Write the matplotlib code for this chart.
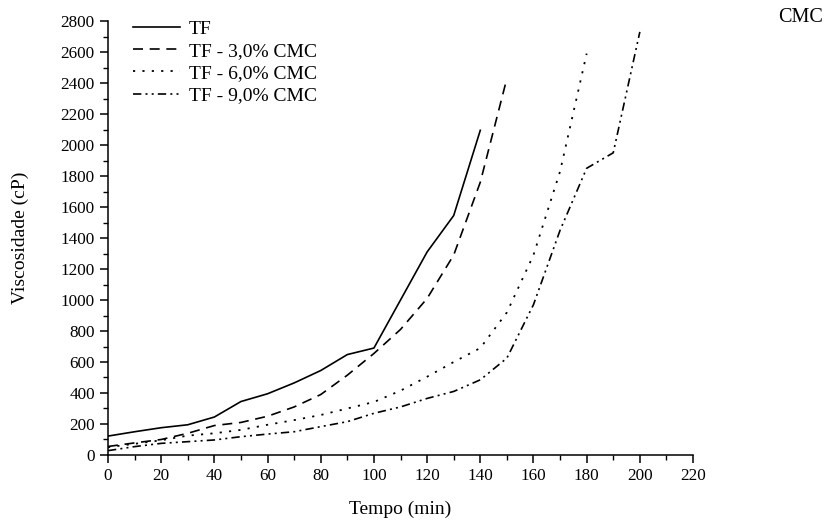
import matplotlib
matplotlib.use('Agg')
import matplotlib.pyplot as plt
from matplotlib.ticker import MultipleLocator

plt.rcParams['font.family'] = ['Liberation Serif', 'DejaVu Serif']

# Data (tempo in min, viscosidade in cP)
tempo_tf = [0, 10, 20, 30, 40, 50, 60, 70, 80, 90, 100, 110, 120, 130, 140]
visc_tf = [122, 150, 176, 195, 245, 345, 395, 465, 545, 648, 690, 1000, 1310, 1545, 2095]

tempo_3 = [0, 10, 20, 30, 40, 50, 60, 70, 80, 90, 100, 110, 120, 130, 140, 150]
visc_3 = [55, 78, 100, 140, 190, 210, 250, 310, 390, 515, 655, 810, 1010, 1290, 1760, 2430]

tempo_6 = [0, 10, 20, 30, 40, 50, 60, 70, 80, 90, 100, 110, 120, 130, 140, 150, 160, 170, 180]
visc_6 = [50, 72, 95, 125, 140, 162, 195, 225, 258, 300, 342, 415, 505, 600, 690, 920, 1290, 1830, 2590]

tempo_9 = [0, 10, 20, 30, 40, 50, 60, 70, 80, 90, 100, 110, 120, 130, 140, 150, 160, 170, 180, 190, 200]
visc_9 = [28, 54, 75, 86, 97, 118, 135, 150, 183, 215, 269, 310, 365, 410, 485, 625, 970, 1450, 1850, 1950, 2730]

labels = ['TF', 'TF - 3,0% CMC', 'TF - 6,0% CMC', 'TF - 9,0% CMC']

fig = plt.figure(figsize=(8.27, 5.26), dpi=100)
ax = fig.add_axes([0.1306, 0.135, 0.7074, 0.825])

ax.plot(tempo_tf, visc_tf, color='black', lw=1.2, ls='-', label=labels[0])
ax.plot(tempo_3, visc_3, color='black', lw=1.2, ls=(0, (6, 4)), label=labels[1])
ax.plot(tempo_6, visc_6, color='black', lw=1.3, ls=(0, (1.2, 4)), label=labels[2])
ax.plot(tempo_9, visc_9, color='black', lw=1.2, ls=(0, (5, 2.5, 1.2, 2.5, 1.2, 2.5)), label=labels[3])

ax.set_xlim(0, 220)
ax.set_ylim(0, 2800)
ax.xaxis.set_major_locator(MultipleLocator(20))
ax.xaxis.set_minor_locator(MultipleLocator(10))
ax.yaxis.set_major_locator(MultipleLocator(200))
ax.yaxis.set_minor_locator(MultipleLocator(100))
ax.tick_params(which='major', direction='out', length=6, width=1.1, labelsize=12.3)
ax.tick_params(which='minor', direction='out', length=3.5, width=1.0)
for s in ['top', 'right']:
    ax.spines[s].set_visible(False)
for s in ['left', 'bottom']:
    ax.spines[s].set_linewidth(1.1)

ax.set_xlabel('Tempo (min)', fontsize=14, labelpad=12)
ax.set_ylabel('Viscosidade (cP)', fontsize=14, labelpad=23)

ax.legend(loc='upper left', bbox_to_anchor=(0.03, 1.02), frameon=False, fontsize=14,
          handlelength=2.4, handletextpad=0.45, labelspacing=0.24, borderaxespad=0)

fig.text(0.995, 0.985, 'CMC', fontsize=14.5, ha='right', va='top')

fig.savefig('out.png', dpi=100)
